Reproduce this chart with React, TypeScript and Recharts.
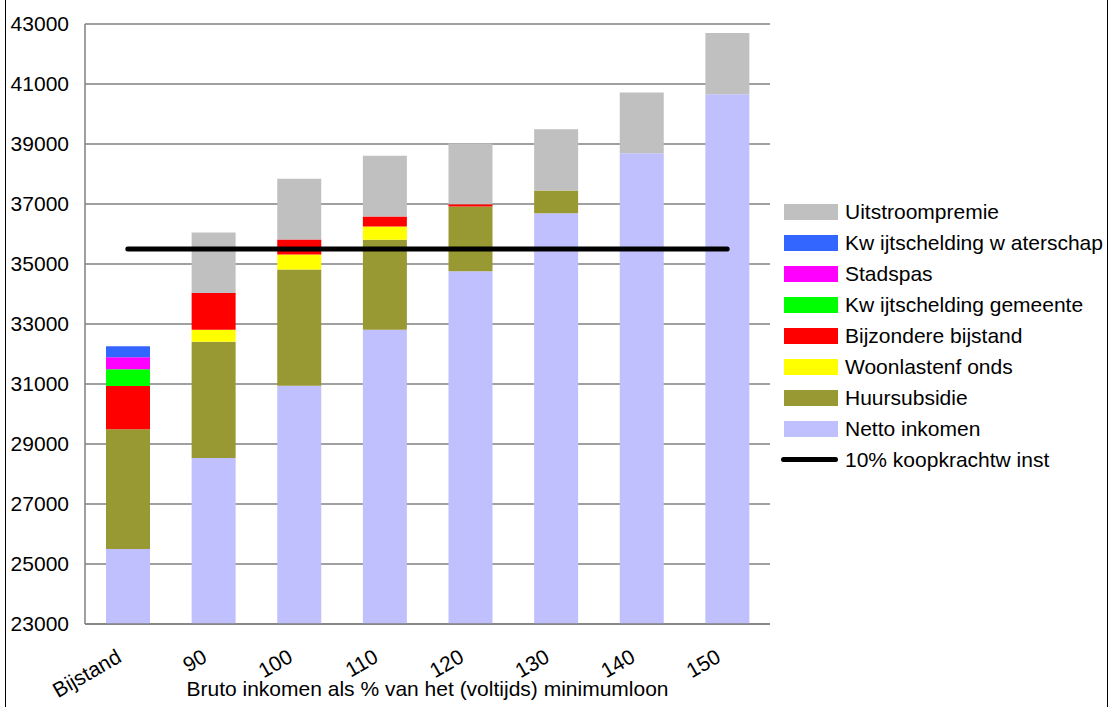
import React from "react";
import { ComposedChart, Bar, Line, XAxis, YAxis, CartesianGrid, Legend, Label } from "recharts";

const categories = ["Bijstand", "90", "100", "110", "120", "130", "140", "150"];
const netto = [25500, 28530, 30940, 32810, 34760, 36690, 38690, 40660];
const huur = [3990, 3880, 3880, 3000, 2160, 760, 0, 0];
const woon = [0, 400, 500, 440, 0, 0, 0, 0];
const bijz = [1440, 1220, 500, 330, 70, 0, 0, 0];
const kwGem = [560, 0, 0, 0, 0, 0, 0, 0];
const stadspas = [400, 0, 0, 0, 0, 0, 0, 0];
const kwWater = [370, 0, 0, 0, 0, 0, 0, 0];
const uitstroom = [0, 2020, 2020, 2030, 2030, 2040, 2030, 2040];
const koopkracht = [35500, 35500, 35500, 35500, 35500, 35500, 35500, 35500];
const yTicks = [23000, 25000, 27000, 29000, 31000, 33000, 35000, 37000, 39000, 41000, 43000];

// bottom to top in the stack
const series = [
  { key: "netto", name: "Netto inkomen", color: "#C0C0FF", values: netto },
  { key: "huur", name: "Huursubsidie", color: "#999933", values: huur },
  { key: "woon", name: "Woonlastenf onds", color: "#FFFF00", values: woon },
  { key: "bijz", name: "Bijzondere bijstand", color: "#FF0000", values: bijz },
  { key: "kwGem", name: "Kw ijtschelding gemeente", color: "#00FF00", values: kwGem },
  { key: "stadspas", name: "Stadspas", color: "#FF00FF", values: stadspas },
  { key: "kwWater", name: "Kw ijtschelding w aterschap", color: "#3366FF", values: kwWater },
  { key: "uitstroom", name: "Uitstroompremie", color: "#C0C0C0", values: uitstroom },
];

const data = categories.map((cat, i) => {
  const row: Record<string, string | number> = { cat, koop: koopkracht[i] };
  series.forEach((s) => (row[s.key] = s.values[i]));
  return row;
});

const FONT = "'Liberation Sans', Arial, sans-serif";

function XTick(props: any) {
  const { x, y, payload } = props;
  const tx = x - 5;
  const ty = y + 29;
  return (
    <text
      x={tx}
      y={ty}
      textAnchor="end"
      fontSize={21}
      fontFamily={FONT}
      fill="#000"
      transform={`rotate(-30, ${tx}, ${ty})`}
    >
      {payload.value}
    </text>
  );
}

function LegendBox() {
  const items = [...series].reverse();
  return (
    <div style={{ position: "relative", fontFamily: FONT, fontSize: 21, color: "#000" }}>
      {items.map((s, i) => (
        <div key={s.key} style={{ position: "absolute", top: i * 31, left: 0, height: 31, display: "flex", alignItems: "center", whiteSpace: "nowrap" }}>
          <div style={{ width: 54, height: 16, background: s.color, marginLeft: 3, marginRight: 7 }} />
          <span>{s.name}</span>
        </div>
      ))}
      <div style={{ position: "absolute", top: items.length * 31, left: 0, height: 31, display: "flex", alignItems: "center", whiteSpace: "nowrap" }}>
        <div style={{ width: 57, height: 5, background: "#000", borderRadius: 3, marginRight: 7 }} />
        <span>10% koopkrachtw inst</span>
      </div>
    </div>
  );
}

export default function App() {
  return (
    <div style={{ position: "fixed", left: 0, top: 0, width: 1111, height: 707, background: "#fff" }}>
      <div style={{ position: "absolute", left: 5, top: 0, width: 1101, height: 707, borderLeft: "1px solid #000", borderRight: "1px solid #000", pointerEvents: "none" }} />
      <ComposedChart
        width={1111}
        height={707}
        data={data}
        margin={{ top: 24, right: 341, bottom: 0, left: 0 }}
        style={{ fontFamily: FONT }}
      >
        <CartesianGrid vertical={false} stroke="#808080" strokeWidth={1.5} />
        <XAxis
          dataKey="cat"
          height={83}
          axisLine={{ stroke: "#808080", strokeWidth: 1.5 }}
          tickLine={false}
          interval={0}
          tick={<XTick />}
        >
          <Label
            value="Bruto inkomen als % van het (voltijds) minimumloon"
            position="insideBottom"
            offset={11}
            style={{ fontSize: 21, fontFamily: FONT, fill: "#000" }}
          />
        </XAxis>
        <YAxis
          width={85}
          domain={[23000, 43000]}
          ticks={yTicks}
          allowDataOverflow
          axisLine={{ stroke: "#808080", strokeWidth: 1.5 }}
          tickLine={false}
          tickSize={0}
          tickMargin={16}
          tick={{ fontSize: 21, fill: "#000", fontFamily: FONT }}
        />
        {series.map((s) => (
          <Bar key={s.key} dataKey={s.key} name={s.name} stackId="a" fill={s.color} barSize={44} isAnimationActive={false} />
        ))}
        <Line
          dataKey="koop"
          name="10% koopkrachtwinst"
          stroke="#000"
          strokeWidth={5}
          strokeLinecap="round"
          dot={false}
          activeDot={false}
          isAnimationActive={false}
        />
        <Legend
          layout="horizontal"
          verticalAlign="middle"
          align="center"
          content={() => <LegendBox />}
          wrapperStyle={{ position: "absolute", left: 781, top: 196, width: 330, height: 290 }}
        />
      </ComposedChart>
    </div>
  );
}
